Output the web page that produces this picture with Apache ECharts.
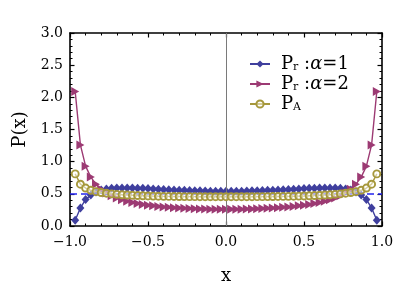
<!DOCTYPE html>
<html><head><meta charset="utf-8">
<script src="https://cdn.jsdelivr.net/npm/echarts@6/dist/echarts.min.js"></script>
<style>html,body{margin:0;padding:0;background:#fff}#c{width:415px;height:292px}</style>
</head><body><div id="c"></div>
<script>
const xs = [-0.9667,-0.9333,-0.9,-0.8667,-0.8333,-0.8,-0.7667,-0.7333,-0.7,-0.6667,
  -0.6333,-0.6,-0.5667,-0.5333,-0.5,-0.4667,-0.4333,-0.4,-0.3667,-0.3333,
  -0.3,-0.2667,-0.2333,-0.2,-0.1667,-0.1333,-0.1,-0.0667,-0.0333,0,
  0.0333,0.0667,0.1,0.1333,0.1667,0.2,0.2333,0.2667,0.3,0.3333,
  0.3667,0.4,0.4333,0.4667,0.5,0.5333,0.5667,0.6,0.6333,0.6667,
  0.7,0.7333,0.7667,0.8,0.8333,0.8667,0.9,0.9333,0.9667];
const prAlpha1 = [0.09,0.28,0.41,0.48,0.53,0.56,0.575,0.585,0.59,0.592,
  0.592,0.59,0.588,0.585,0.581,0.577,0.573,0.569,0.565,0.561,
  0.557,0.554,0.551,0.548,0.546,0.544,0.542,0.541,0.54,0.54,
  0.54,0.541,0.542,0.544,0.546,0.548,0.551,0.554,0.557,0.561,
  0.565,0.569,0.573,0.577,0.581,0.585,0.588,0.59,0.592,0.592,
  0.59,0.585,0.575,0.56,0.53,0.48,0.41,0.28,0.09];
const prAlpha2 = [2.09,1.26,0.93,0.76,0.65,0.57,0.514,0.471,0.437,0.409,
  0.386,0.367,0.35,0.336,0.324,0.314,0.305,0.297,0.291,0.285,
  0.28,0.275,0.271,0.268,0.266,0.264,0.262,0.261,0.26,0.26,
  0.26,0.261,0.262,0.264,0.266,0.268,0.271,0.275,0.28,0.285,
  0.291,0.297,0.305,0.314,0.324,0.336,0.35,0.367,0.386,0.409,
  0.437,0.471,0.514,0.57,0.65,0.76,0.93,1.26,2.09];
const pA = [0.81,0.65,0.59,0.555,0.535,0.52,0.51,0.50,0.492,0.486,
  0.481,0.477,0.473,0.47,0.467,0.465,0.463,0.461,0.46,0.459,
  0.458,0.457,0.456,0.456,0.455,0.455,0.455,0.455,0.455,0.455,
  0.455,0.455,0.455,0.455,0.455,0.456,0.456,0.457,0.458,0.459,
  0.46,0.461,0.463,0.465,0.467,0.47,0.473,0.477,0.481,0.486,
  0.492,0.50,0.51,0.52,0.535,0.555,0.59,0.65,0.81];
const refLevel = 0.5;
const zeroX = 0;
const seriesNames = ['Pr1', 'Pr2', 'PA'];

const FONT = 'DejaVu Serif';
const C_BLUE = '#3f3f9e', C_MAG = '#9c3a73', C_GOLD = '#a6983c';
const chart = echarts.init(document.getElementById('c'), null, {renderer: 'canvas'});
const pairs = ys => xs.map((x, i) => [x, ys[i]]);
const fmt = v => (v < 0 ? '\u2212' : '') + Math.abs(v).toFixed(1);
const baseAxis = {
  axisLine: {show: true, onZero: false, lineStyle: {color: '#000', width: 1.6}},
  axisTick: {show: true, inside: true, length: 4.5, lineStyle: {color: '#000', width: 1.2}},
  minorTick: {show: true, splitNumber: 5, length: 2.5, lineStyle: {color: '#000', width: 1}},
  splitLine: {show: false}
};
const labelStyle = {fontFamily: FONT, fontSize: 14, color: '#000'};
const legendNames = {
  Pr1: '{p|P}{s|r}{p| :}{a|α}{p|=1}',
  Pr2: '{p|P}{s|r}{p| :}{a|α}{p|=2}',
  PA: '{p|P}{s|A}'
};
const option = {
  animation: false,
  grid: {left: 70, right: 33, top: 33, bottom: 66, containLabel: false},
  xAxis: [
    Object.assign({type: 'value', min: -1, max: 1, interval: 0.5, position: 'bottom',
      axisLabel: Object.assign({formatter: fmt, margin: 9}, labelStyle),
      name: 'x', nameLocation: 'middle', nameGap: 41,
      nameTextStyle: {fontFamily: FONT, fontSize: 18, color: '#000'}}, baseAxis),
    Object.assign({type: 'value', min: -1, max: 1, interval: 0.5, position: 'top',
      axisLabel: {show: false}}, baseAxis)
  ],
  yAxis: [
    Object.assign({type: 'value', min: 0, max: 3, interval: 0.5, position: 'left',
      axisLabel: Object.assign({formatter: v => v.toFixed(1), margin: 7}, labelStyle),
      name: 'P(x)', nameLocation: 'middle', nameGap: 41,
      nameTextStyle: {fontFamily: FONT, fontSize: 18, color: '#000'}}, baseAxis),
    Object.assign({type: 'value', min: 0, max: 3, interval: 0.5, position: 'right',
      axisLabel: {show: false}}, baseAxis)
  ],
  legend: {
    data: seriesNames, orient: 'vertical', left: 244, top: 50,
    itemWidth: 20, itemHeight: 9, itemGap: 2,
    symbolRotate: 'inherit',
    formatter: n => legendNames[n],
    textStyle: {
      fontFamily: FONT, fontSize: 18, color: '#000', lineHeight: 17,
      rich: {
        p: {fontFamily: FONT, fontSize: 18, color: '#000'},
        s: {fontFamily: FONT, fontSize: 11, color: '#000', padding: [7, 0, 0, 0]},
        a: {fontFamily: FONT, fontSize: 18, fontStyle: 'italic', color: '#000'}
      },
      padding: [0, 0, 0, 6]
    }
  },
  series: [
    {type: 'line', name: 'ref', data: [], z: 1, silent: true,
      markLine: {silent: true, symbol: 'none', label: {show: false}, animation: false,
        data: [{yAxis: refLevel, lineStyle: {color: '#2424f0', width: 1.5, type: [7, 4]}}]}},
    {type: 'line', name: 'Pr1', data: pairs(prAlpha1), z: 3, symbol: 'diamond', symbolSize: [8, 9],
      lineStyle: {color: C_BLUE, width: 1.4}, itemStyle: {color: C_BLUE}},
    {type: 'line', name: 'Pr2', data: pairs(prAlpha2), z: 4, symbol: 'triangle', symbolSize: [9, 8], symbolRotate: -90,
      lineStyle: {color: C_MAG, width: 1.4}, itemStyle: {color: C_MAG}},
    {type: 'line', name: 'PA', data: pairs(pA), z: 5, symbol: 'circle', symbolSize: 7,
      lineStyle: {color: C_GOLD, width: 1.4},
      itemStyle: {color: 'rgba(255,255,255,0.5)', borderColor: C_GOLD, borderWidth: 1.9}},
    {type: 'line', name: 'zero', data: [], z: 6, silent: true,
      markLine: {silent: true, symbol: 'none', label: {show: false}, animation: false,
        data: [{xAxis: zeroX, lineStyle: {color: '#7a7a7a', width: 1, type: 'solid'}}]}}
  ]
};
chart.setOption(option);
</script></body></html>
